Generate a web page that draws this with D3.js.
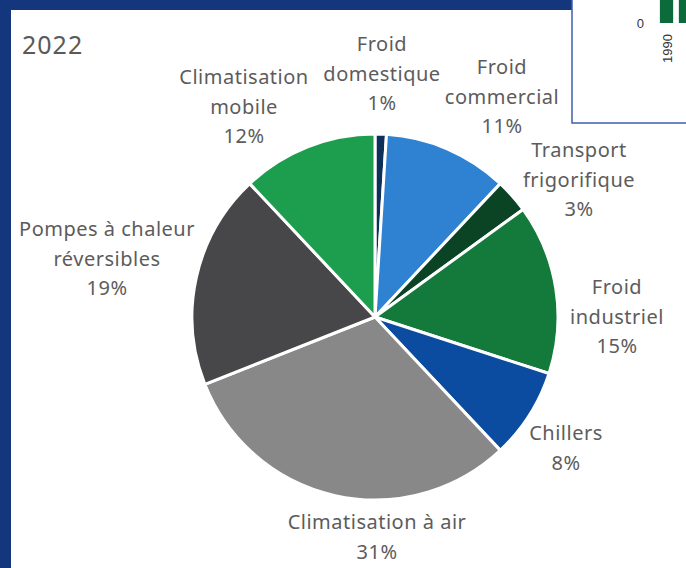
<!DOCTYPE html>
<html><head><meta charset="utf-8">
<script src="https://cdn.jsdelivr.net/npm/d3@7"></script>
<style>html,body{margin:0;padding:0;background:#fff;}svg{display:block;}</style>
</head><body>
<svg id="c" width="686" height="568"></svg>
<script>
// ---- data ----
const categories = ["Froid domestique","Froid commercial","Transport frigorifique","Froid industriel","Chillers","Climatisation à air","Pompes à chaleur réversibles","Climatisation mobile"];
const values = [1, 11, 3, 15, 8, 31, 19, 12];
const labelLines = [["Froid","domestique","1%"],["Froid","commercial","11%"],["Transport","frigorifique","3%"],["Froid","industriel","15%"],["Chillers","8%"],["Climatisation à air","31%"],["Pompes à chaleur","réversibles","19%"],["Climatisation","mobile","12%"]];
const colors = ["#0e2f5a","#2f82d2","#0b4424","#137a3c","#0b4ba0","#888888","#47474a","#1d9e4e"];
const yearLabel = "2022";
// inset fragment (neighbouring chart)
const insetYears = ["1990","1991"];
const insetValues = [1, 1];
const insetTicks = [0];

// ---- layout ----
const labelPos = [[382,51],[502,74],[579,157],[617,294],[566,440],[377,529],[107,236],[244,84]];
const W = 686, H = 568, cx = 375, cy = 317, R = 183, lineH = 29.6;

const svg = d3.select("#c");
svg.append("rect").attr("width",W).attr("height",H).attr("fill","#13367c");
svg.append("rect").attr("x",11).attr("y",10).attr("width",W-11).attr("height",H-10).attr("fill","#ffffff");

svg.append("text").attr("x",22).attr("y",54).attr("fill","#5a5a5a")
  .style("font-family","'Noto Sans', sans-serif").style("font-size","25px").style("letter-spacing","1px").text(yearLabel);

const pie = d3.pie().sort(null).value(d=>d);
const arc = d3.arc().innerRadius(0).outerRadius(R);
const g = svg.append("g").attr("transform",`translate(${cx},${cy})`);
g.selectAll("path").data(pie(values)).join("path")
  .attr("d",arc).attr("fill",(d,i)=>colors[i])
  .attr("stroke","#ffffff").attr("stroke-width",3).attr("stroke-linejoin","round");

const lab = svg.append("g").style("font-family","'Noto Sans', sans-serif").style("font-size","20px")
  .style("letter-spacing","0.5px").attr("fill","#5c5c5c").attr("text-anchor","middle");
labelLines.forEach((lines,i)=>{
  const t = lab.append("text").attr("x",labelPos[i][0]).attr("y",labelPos[i][1]);
  lines.forEach((s,j)=>t.append("tspan").attr("x",labelPos[i][0]).attr("y",labelPos[i][1]+j*lineH).text(s));
});

// inset
const inset = svg.append("g");
inset.append("rect").attr("x",572).attr("y",-2).attr("width",120).attr("height",125)
  .attr("fill","#ffffff").attr("stroke","#3d5fae").attr("stroke-width",1.5);
const ix = d3.scaleBand().domain(insetYears).range([658,694]).paddingInner(0.3).paddingOuter(0.1);
const iy = d3.scaleLinear().domain([0,1]).range([23,-20]);
inset.selectAll("rect.b").data(insetValues).join("rect").attr("class","b")
  .attr("x",(d,i)=>ix(insetYears[i])).attr("width",ix.bandwidth())
  .attr("y",d=>iy(d)).attr("height",d=>iy(0)-iy(d)).attr("fill","#0b6b3a");
inset.selectAll("text.t").data(insetTicks).join("text").attr("class","t")
  .attr("x",644).attr("y",d=>iy(d)+5).attr("text-anchor","end")
  .style("font-family","'Liberation Sans', Arial, sans-serif").style("font-size","13px").attr("fill","#333").text(d=>d);
inset.selectAll("text.y").data(insetYears.slice(0,1)).join("text").attr("class","y")
  .attr("transform",d=>`translate(${ix(d)+ix.bandwidth()/2+5},${iy(0)+11}) rotate(-90)`).attr("text-anchor","end")
  .style("font-family","'Liberation Sans', Arial, sans-serif").style("font-size","13px").attr("fill","#333").text(d=>d);
</script>
</body></html>
